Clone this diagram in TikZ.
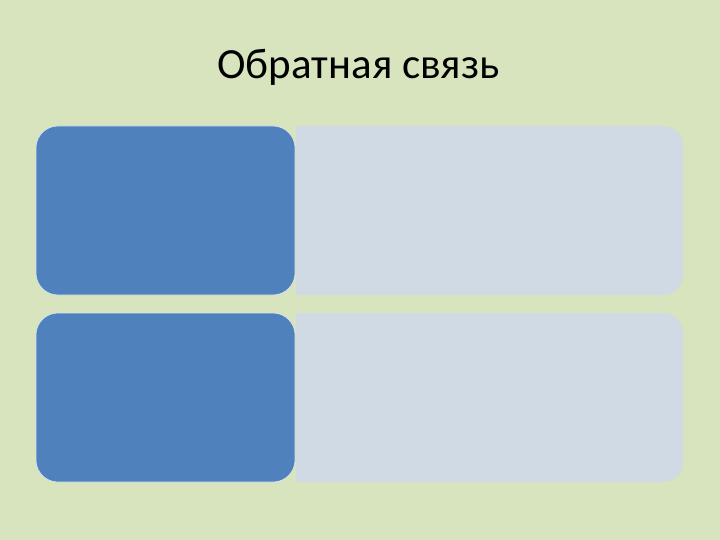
\documentclass[tikz,border=0pt]{standalone}
\usepackage{fontspec}
\setmainfont{Carlito}
\definecolor{bg}{HTML}{D7E4BD}
\definecolor{bluebox}{HTML}{4F81BD}
\definecolor{lightbox}{HTML}{D0DAE4}
\begin{document}
\begin{tikzpicture}[x=1pt,y=-1pt,
  leftbox/.style={fill=bluebox,draw=white!80!bluebox,line width=0.6pt,rounded corners=22pt},
  rightbox/.style={fill=lightbox}]
\fill[bg] (0,0) rectangle (720,540);
\useasboundingbox (0,0) rectangle (720,540);
\node[font=\fontsize{43}{50}\selectfont,text=black,anchor=base,inner sep=0pt] (title) at (358.5,79) {Обратная связь};
% top row
\fill[rightbox] (296,126) -- (663,126) arc[start angle=90,end angle=0,radius=20pt] -- (683,275) arc[start angle=0,end angle=-90,radius=20pt] -- (296,295) -- cycle;
\draw[leftbox] (36,126) rectangle (295,295);
% bottom row
\fill[rightbox] (296,313) -- (663,313) arc[start angle=90,end angle=0,radius=20pt] -- (683,462) arc[start angle=0,end angle=-90,radius=20pt] -- (296,482) -- cycle;
\draw[leftbox] (36,313) rectangle (295,482);
\end{tikzpicture}
\end{document}
